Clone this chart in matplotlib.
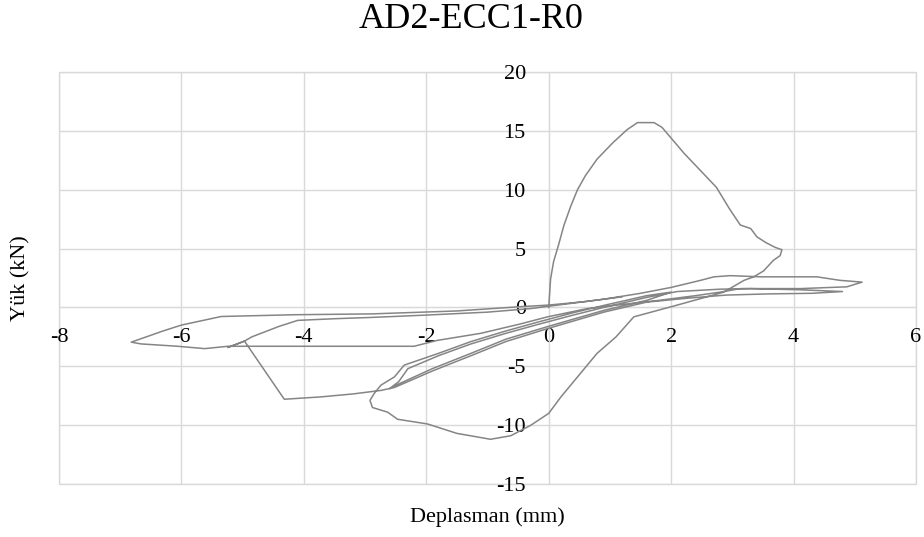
import numpy as np
import matplotlib.pyplot as plt
from matplotlib.patches import Rectangle

plt.rcParams['font.family'] = ['Liberation Serif', 'DejaVu Serif']
plt.rcParams['axes.unicode_minus'] = False

# backbone: first push to the peak and softening branch
disp_backbone = [0, 0.03, 0.08, 0.16, 0.25, 0.36, 0.47, 0.60, 0.79, 1.05, 1.28, 1.45, 1.72, 1.85,
                 2.21, 2.74, 2.95, 3.13, 3.30, 3.40, 3.55, 3.70, 3.81]
load_backbone = [0, 2.4, 3.9, 5.3, 7.0, 8.6, 10.0, 11.2, 12.6, 14.0, 15.1, 15.7, 15.7, 15.3,
                 13.1, 10.2, 8.4, 7.0, 6.7, 6.0, 5.5, 5.1, 4.9]

# first unloading into negative side
disp_unload1 = [3.78, 3.67, 3.51, 3.35, 3.19, 2.86, 2.1, 1.39, 1.10, 0.79, 0.47, 0.20, 0.0,
                -0.29, -0.62, -0.95, -1.5, -1.98, -2.47, -2.63, -2.88, -2.92, -2.85, -2.77]
load_unload1 = [4.4, 4.0, 3.1, 2.6, 2.3, 1.3, 0.2, -0.8, -2.5, -3.9, -5.9, -7.6, -9.0,
                -10.0, -10.9, -11.2, -10.7, -9.9, -9.5, -8.9, -8.5, -7.9, -7.3, -6.8]

# small cycles around +-2.5 mm
disp_cyc_a = [-2.74, -2.52, -2.36, -1.8, -1.27, -0.7, -0.18, 0.4, 0.9, 1.6, 2.0,
              1.6, 0.9, 0.0, -0.7, -1.27, -1.9, -2.45, -2.6]
load_cyc_a = [-6.6, -5.9, -4.9, -3.9, -2.9, -2.0, -1.25, -0.45, 0.17, 1.0, 1.3,
              0.6, -0.25, -1.6, -2.7, -3.9, -5.2, -6.5, -6.9]
disp_cyc_b = [-2.45, -2.3, -1.8, -1.27, -0.7, -0.18, 0.4, 0.9, 1.6, 2.1, 2.8, 3.3, 4.1, 4.8,
              4.3, 3.6, 2.9, 2.3, 1.6, 0.9, -0.02, -0.7, -1.27, -1.9, -2.52, -2.74]
load_cyc_b = [-6.3, -5.2, -4.1, -3.1, -2.2, -1.45, -0.65, 0.0, 0.85, 1.35, 1.55, 1.6, 1.5, 1.35,
              1.2, 1.15, 1.05, 0.8, 0.45, -0.4, -1.8, -2.9, -4.1, -5.4, -6.8, -7.05]

# push to -5 mm with strength drop
disp_neg5 = [-3.2, -3.72, -4.32, -4.65, -4.97, -5.24]
load_neg5 = [-7.35, -7.6, -7.8, -5.3, -2.86, -3.4]

# reload towards +5 mm
disp_pos5 = [-4.97, -4.85, -4.7, -4.4, -4.1, -3.5, -2.9, -2.0, -1.0, -0.3, 0.3, 0.9, 1.5,
             2.0, 2.48, 2.7, 2.97, 3.46, 4.38, 4.76, 5.12, 4.87, 4.11, 3.13, 2.8, 2.4]
load_pos5 = [-2.86, -2.5, -2.2, -1.6, -1.1, -0.96, -0.85, -0.65, -0.4, -0.1, 0.3, 0.7, 1.2,
             1.7, 2.3, 2.6, 2.7, 2.6, 2.6, 2.3, 2.15, 1.75, 1.6, 1.6, 1.3, 1.0]

# push to -6.8 mm
disp_neg7 = [1.8, 1.2, 0.63, -0.02, -0.46, -1.11, -1.82, -2.2, -3.5, -4.5, -5.24, -5.62,
             -6.06, -6.66, -6.82]
load_neg7 = [0.6, 0.25, -0.1, -0.8, -1.4, -2.2, -2.8, -3.3, -3.3, -3.3, -3.3, -3.5,
             -3.3, -3.1, -2.95]

# last reload
disp_last = [-6.66, -6.3, -6.0, -5.35, -4.15, -2.9, -1.5, -0.5, 0.0, 0.6, 1.2]
load_last = [-2.66, -2.0, -1.5, -0.77, -0.62, -0.55, -0.3, 0.05, 0.2, 0.5, 0.9]

disp = np.concatenate([disp_backbone, disp_unload1, disp_cyc_a, disp_cyc_b,
                       disp_neg5, disp_pos5, disp_neg7, disp_last])
load = np.concatenate([load_backbone, load_unload1, load_cyc_a, load_cyc_b,
                       load_neg5, load_pos5, load_neg7, load_last])

grid_c = '#d9d9d9'

fig = plt.figure(figsize=(9.24, 5.37), dpi=100)
ax = fig.add_axes([59 / 924, 1 - 484 / 537, 857 / 924, 412 / 537])

ax.plot(disp, load, color='#858585', lw=1.1, zorder=3)

ax.set_xlim(-8, 6)
ax.set_ylim(-15, 20)
ax.set_xticks(np.arange(-8, 7, 2))
ax.set_yticks(np.arange(-15, 21, 5))
ax.grid(True, color=grid_c, lw=1.0)
ax.set_axisbelow(True)

ax.spines['left'].set_position(('data', 0))
ax.spines['bottom'].set_position(('data', 0))
for s in ['left', 'bottom']:
    ax.spines[s].set_color(grid_c)
for s in ['top', 'right']:
    ax.spines[s].set_visible(False)
ax.add_patch(Rectangle((0, 0), 1, 1, transform=ax.transAxes, fill=False,
                       ec=grid_c, lw=1.0, clip_on=False, zorder=0))

ax.tick_params(axis='x', length=0, pad=15, labelsize=16)
ax.tick_params(axis='y', length=0, pad=16.5, labelsize=16)

ax.set_xlabel('Deplasman (mm)', fontsize=16)
ax.set_ylabel('Yük (kN)', fontsize=16)
ax.xaxis.set_label_coords(0.5, -0.056)
ax.yaxis.set_label_coords(-0.033, 0.5)

fig.suptitle('AD2-ECC1-R0', fontsize=26, x=0.51, y=0.963, va='center')

fig.savefig('out.png', dpi=100)
